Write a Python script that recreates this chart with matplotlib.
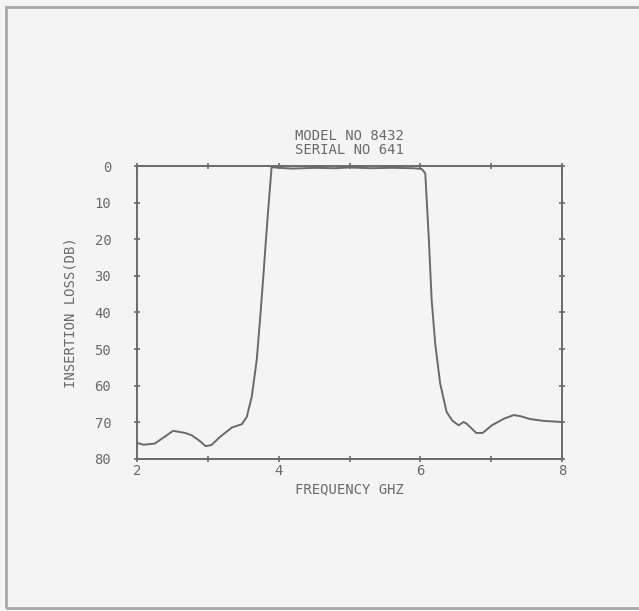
import matplotlib.pyplot as plt
from matplotlib.patches import Rectangle

# insertion loss curve (GHz, dB)
freq = [2.00, 2.09, 2.25, 2.40, 2.51, 2.68, 2.77, 2.88, 2.97, 3.05, 3.17, 3.34, 3.48, 3.55,
        3.62, 3.69, 3.74, 3.78, 3.84, 3.90, 4.00, 4.20, 4.50, 4.80, 5.00, 5.30, 5.60, 5.90,
        6.02, 6.07, 6.12, 6.16, 6.21, 6.28, 6.37, 6.45, 6.54, 6.61, 6.65, 6.79, 6.88, 7.01,
        7.18, 7.32, 7.41, 7.55, 7.74, 8.00]
loss = [75.6, 76.1, 75.8, 73.8, 72.3, 72.9, 73.5, 75.0, 76.5, 76.2, 74.0, 71.4, 70.5, 68.5,
        63.0, 53.0, 41.2, 31.0, 15.0, 0.3, 0.5, 0.7, 0.5, 0.6, 0.4, 0.6, 0.5, 0.6,
        0.8, 2.0, 20.0, 36.6, 48.5, 59.4, 67.1, 69.5, 70.8, 69.9, 70.3, 72.9, 72.9, 70.8,
        69.0, 68.0, 68.3, 69.1, 69.6, 69.9]

x_major = [2, 4, 6, 8]
x_minor = [3, 5, 7]
y_ticks = [0, 10, 20, 30, 40, 50, 60, 70, 80]

ink = "#6a6a6a"
paper = "#f4f4f4"
font = "DejaVu Sans Mono"

fig = plt.figure(figsize=(6.39, 6.11), dpi=100, facecolor=paper)
ax = fig.add_axes([0.2144, 0.2488, 0.6651, 0.4795])
ax.set_facecolor(paper)

# outer frame of the scanned page
fig.patches.append(Rectangle((0.009, 0.005), 1.0, 0.984, transform=fig.transFigure,
                             fill=False, edgecolor="#a8a8a8", linewidth=2))

ax.plot(freq, loss, color=ink, linewidth=1.4)

ax.set_xlim(2, 8)
ax.set_ylim(80, 0)
ax.set_xticks(x_major)
ax.set_xticks(x_minor, minor=True)
ax.set_yticks(y_ticks)
ax.set_xticklabels([str(v) for v in x_major], family=font, fontsize=10, color=ink)
ax.set_yticklabels([str(v) for v in y_ticks], family=font, fontsize=10, color=ink)

ax.tick_params(axis="both", which="both", direction="inout", length=5, width=1.2,
               color=ink, top=True, right=True)
ax.tick_params(axis="x", which="major", pad=1)
ax.tick_params(axis="y", which="major", pad=16)

for s in ax.spines.values():
    s.set_color(ink)
    s.set_linewidth(1.4)

ax.set_xlabel("FREQUENCY GHZ", family=font, fontsize=10, color=ink, labelpad=3)
ax.set_ylabel("INSERTION LOSS(DB)", family=font, fontsize=10, color=ink, labelpad=12)
ax.set_title("MODEL NO 8432\nSERIAL NO 641", family=font, fontsize=10, color=ink,
             pad=9, linespacing=0.95)

fig.savefig("out.png", dpi=100, facecolor=paper)
